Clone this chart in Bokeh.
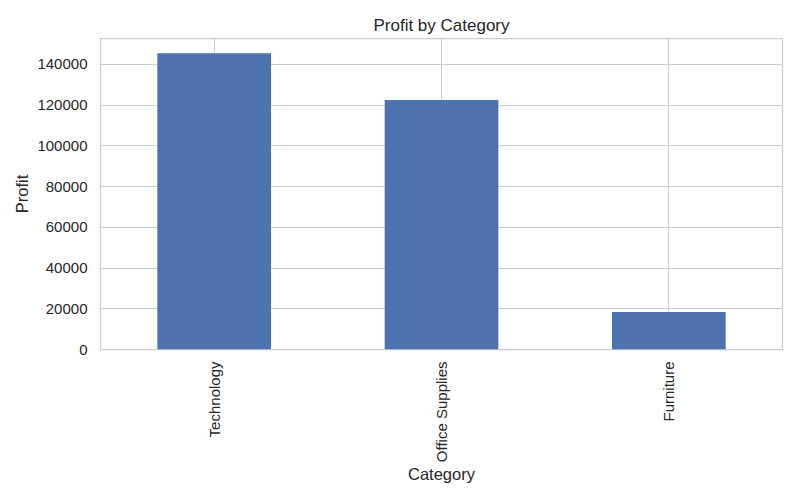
import math
from bokeh.plotting import figure
from bokeh.models import ColumnDataSource, FactorRange, Range1d, FixedTicker, BasicTickFormatter
from bokeh.embed import file_html
from bokeh.resources import INLINE

categories = ["Technology", "Office Supplies", "Furniture"]
profit = [145454.95, 122490.80, 18451.27]
y_ticks = [0, 20000, 40000, 60000, 80000, 100000, 120000, 140000]

src = ColumnDataSource(dict(cat=categories, profit=profit))

FONT = "Liberation Sans"
TXT = "#262626"
GRID = "#cccccc"

p = figure(x_range=FactorRange(*categories, range_padding=0),
           y_range=Range1d(0, max(profit) * 1.05),
           frame_width=682, frame_height=311,
           min_border_left=100, min_border_right=10,
           min_border_top=38, min_border_bottom=10,
           output_backend="svg", toolbar_location=None,
           title="Profit by Category")

p.vbar(x="cat", top="profit", width=0.5, source=src,
       fill_color="#4c72b0", line_color="#4c72b0", line_width=0)

p.title.align = "center"
p.title.text_font = FONT
p.title.text_font_size = "17px"
p.title.text_font_style = "normal"
p.title.text_color = TXT
p.title.offset = 0
p.title.standoff = 8

p.outline_line_color = GRID
p.outline_line_width = 1.25
p.background_fill_color = "white"
p.border_fill_color = "white"

for ax in (p.xaxis[0], p.yaxis[0]):
    ax.axis_line_color = None
    ax.major_tick_line_color = None
    ax.minor_tick_line_color = None
    ax.major_tick_out = 0
    ax.major_tick_in = 0
    ax.minor_tick_out = 0
    ax.minor_tick_in = 0
    ax.major_label_text_font = FONT
    ax.major_label_text_font_size = "15px"
    ax.major_label_text_color = TXT
    ax.axis_label_text_font = FONT
    ax.axis_label_text_font_size = "16.5px"
    ax.axis_label_text_font_style = "normal"
    ax.axis_label_text_color = TXT

p.yaxis.ticker = FixedTicker(ticks=y_ticks)
p.yaxis.formatter = BasicTickFormatter(use_scientific=False)
p.yaxis.major_label_standoff = 13
p.yaxis.axis_label = "Profit"
p.yaxis.axis_label_standoff = 3

p.xaxis.major_label_orientation = math.pi / 2
p.xaxis.major_label_standoff = 12
p.xaxis.axis_label = "Category"
p.xaxis.axis_label_standoff = 0

p.xgrid.grid_line_color = GRID
p.ygrid.grid_line_color = GRID
p.xgrid.grid_line_width = 1.0
p.ygrid.grid_line_width = 1.0

open("out.html", "w").write(file_html(p, INLINE))
